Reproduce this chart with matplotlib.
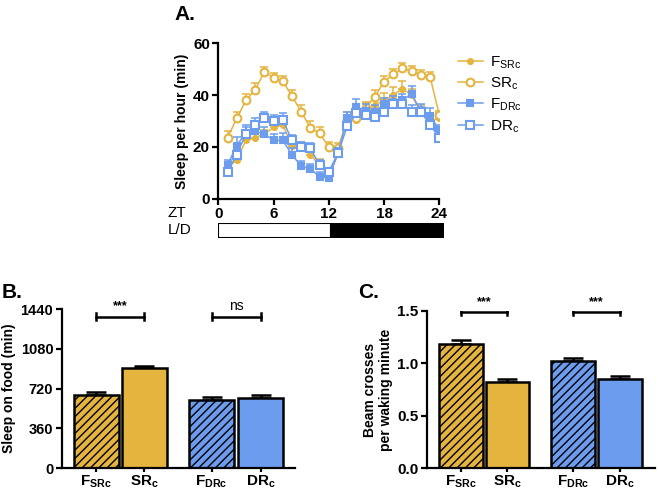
import numpy as np
import matplotlib
matplotlib.use("Agg")
import matplotlib.pyplot as plt
from matplotlib.patches import Rectangle

plt.rcParams['font.family'] = ['Liberation Sans', 'DejaVu Sans']
plt.rcParams['mathtext.fontset'] = 'custom'
plt.rcParams['mathtext.rm'] = 'Liberation Sans'
plt.rcParams['mathtext.bf'] = 'Liberation Sans:bold'
plt.rcParams['hatch.linewidth'] = 1.0

# ---- données panneau A : sommeil par heure (min)
zt = list(range(1, 25))
f_src = [12, 15, 22.5, 23.5, 25, 27.5, 28.5, 20.5, 20, 17, 13, 9,
         18, 31, 30.5, 34, 36, 38, 40, 42.5, 40, 33.5, 30, 31]
sr_c = [23.5, 31, 38, 42, 49, 46.7, 45.4, 39.6, 33.6, 27.4, 25.2, 20,
        19.5, 30.5, 31, 35, 39.4, 45.2, 48, 50.3, 49.3, 47.7, 47.1, 32.3]
f_drc = [13, 20.5, 25.5, 26, 25, 22.5, 22.5, 17, 12.5, 11.5, 8.5, 8,
         17.5, 31, 35.5, 34, 33.5, 36.5, 37, 38, 40.5, 33.5, 32, 26.5]
dr_c = [10.5, 17, 25, 28.5, 31, 30, 30.5, 22.5, 20, 19.5, 13, 10.5,
        17.5, 28, 33, 32.5, 31.5, 33.5, 36.5, 36.5, 33.5, 33.5, 28.5, 23.5]
sem_f_src = [1.5, 1.5, 1.5, 1.5, 1.5, 1.8, 2, 2, 2, 2, 2.5, 2,
             2, 2.5, 3, 3, 3, 3, 3, 3, 2.5, 2.5, 2.5, 2]
sem_sr_c = [2.5, 2.5, 2.5, 2.5, 2, 2, 2, 2.5, 2.5, 2.5, 2.5, 2,
            2, 2, 2.5, 2.5, 2.5, 2, 2, 2, 2, 2, 2, 1.5]
sem_f_drc = [2, 3.5, 3, 2.5, 2.5, 2.5, 3, 2.5, 2, 2, 2, 1.5,
             2, 2.5, 3, 2.5, 2.5, 2.5, 2.5, 2.5, 3, 3, 3, 2]
sem_dr_c = [2, 2.5, 2.5, 2.5, 2.5, 2.5, 2.5, 2, 2, 2, 2, 1.5,
            2, 2.5, 2.5, 2.5, 2.5, 2, 2, 2, 2.5, 2, 2, 2]

# ---- données panneaux B et C
groupes = [r'$\mathbf{F_{SRc}}$', r'$\mathbf{SR_c}$', r'$\mathbf{F_{DRc}}$', r'$\mathbf{DR_c}$']
sommeil_nourriture = [658, 906, 613, 637]
sem_sommeil = [30, 24, 33, 27]
passages = [1.185, 0.82, 1.027, 0.852]
sem_passages = [0.038, 0.032, 0.028, 0.025]

jaune = '#E5B43F'
bleu = '#6C9CEE'
couleurs_barres = [jaune, jaune, bleu, bleu]
hachures = ['////', '', '////', '']
pos = [0, 1.03, 2.48, 3.53]

fig = plt.figure(figsize=(6.58, 4.93), dpi=100)
W, H = 658.0, 493.0

def ax_px(x0, y0, x1, y1):
    return fig.add_axes([x0 / W, 1 - y1 / H, (x1 - x0) / W, (y1 - y0) / H])

def style_axes(ax):
    for s in ['top', 'right']:
        ax.spines[s].set_visible(False)
    for s in ['left', 'bottom']:
        ax.spines[s].set_linewidth(1.6)
    ax.tick_params(width=1.6, length=4, labelsize=11, pad=2)
    for lab in ax.get_yticklabels() + ax.get_xticklabels():
        lab.set_fontweight('bold')

# ---- Panneau A
axA = ax_px(218.3, 43.3, 439.3, 198.7)
series = [
    (f_src, sem_f_src, jaune, 'o', 3.6, jaune, r'F$_{\mathrm{SRc}}$'),
    (sr_c, sem_sr_c, jaune, 'o', 5.6, 'white', r'SR$_{\mathrm{c}}$'),
    (f_drc, sem_f_drc, bleu, 's', 4.2, bleu, r'F$_{\mathrm{DRc}}$'),
    (dr_c, sem_dr_c, bleu, 's', 5.6, 'white', r'DR$_{\mathrm{c}}$'),
]
handles = []
for y, e, c, m, ms, fc, lab in series:
    axA.errorbar(zt, y, yerr=[np.zeros(len(e)), e], fmt='none', ecolor=c,
                 elinewidth=1.1, capsize=2.8, capthick=1.1)
    h, = axA.plot(zt, y, color=c, marker=m, markersize=ms, markerfacecolor=fc,
                  markeredgecolor=c, markeredgewidth=1.5, linewidth=1.1, label=lab)
    handles.append(h)
axA.set_xlim(0, 24)
axA.set_ylim(0, 60)
axA.set_xticks([0, 6, 12, 18, 24])
axA.set_yticks([0, 20, 40, 60])
axA.set_ylabel('Sleep per hour (min)', fontsize=10, fontweight='bold', labelpad=3)
style_axes(axA)
fig.legend(handles=handles, loc='upper left', bbox_to_anchor=(452 / W, 1 - 48 / H),
           frameon=False, fontsize=11, handlelength=1.6, handletextpad=0.5,
           labelspacing=0.3, borderaxespad=0)
fig.text(168 / W, 1 - 213 / H, 'ZT', fontsize=11, va='center')
fig.text(168 / W, 1 - 230.5 / H, 'L/D', fontsize=11, va='center')
fig.text(174 / W, 1 - 15 / H, 'A.', fontsize=15, fontweight='bold', va='center')

axLD = ax_px(217.5, 223.3, 443.5, 237.7)
axLD.set_xlim(0, 24)
axLD.set_ylim(0, 1)
axLD.add_patch(Rectangle((0, 0), 12, 1, facecolor='white', edgecolor='black', linewidth=1.5))
axLD.add_patch(Rectangle((12, 0), 12, 1, facecolor='black', edgecolor='black', linewidth=1.5))
axLD.axis('off')

# ---- Panneaux B et C
def barres(ax, vals, sems, ylim, yticks, ylabel, sig, sig_y, tick_h):
    for i in range(4):
        ax.bar(pos[i], vals[i], width=0.97, color=couleurs_barres[i], edgecolor='black',
               linewidth=1.8, hatch=hachures[i], zorder=2)
    ax.errorbar(pos, vals, yerr=[np.zeros(4), sems], fmt='none', ecolor='black',
                elinewidth=1.8, capsize=7, capthick=1.8, zorder=1)
    ax.set_ylim(*ylim)
    ax.set_yticks(yticks)
    ax.set_xticks(pos)
    ax.set_xticklabels(groupes, fontsize=11.5)
    ax.set_ylabel(ylabel, fontsize=10, fontweight='bold', labelpad=3)
    style_axes(ax)
    ax.tick_params(axis='x', length=3, pad=1)
    for (a, b), txt in zip([(0, 1), (2, 3)], sig):
        ax.plot([pos[a], pos[b]], [sig_y, sig_y], color='black', linewidth=1.8)
        for p in (pos[a], pos[b]):
            ax.plot([p, p], [sig_y - tick_h, sig_y + tick_h], color='black', linewidth=1.8)
        if txt == '***':
            ax.text((pos[a] + pos[b]) / 2, sig_y + tick_h * 1.2, txt, ha='center',
                    va='bottom', fontsize=9, fontweight='bold')
        else:
            ax.text((pos[a] + pos[b]) / 2, sig_y + tick_h * 1.2, txt, ha='center',
                    va='bottom', fontsize=10)

axB = ax_px(61.7, 309.3, 295, 468)
barres(axB, sommeil_nourriture, sem_sommeil, (0, 1440), [0, 360, 720, 1080, 1440],
       'Sleep on food (min)', ['***', 'ns'], 1374, 30)
axB.set_yticklabels(['0', '360', '720', '1080', '1440'], fontweight='bold', fontsize=10.5)
axB.set_xlim(-0.74, 4.27)
fig.text(2 / W, 1 - 292 / H, 'B.', fontsize=15, fontweight='bold', va='center')

axC = ax_px(426.7, 311, 655, 468.3)
barres(axC, passages, sem_passages, (0, 1.5), [0.0, 0.5, 1.0, 1.5],
       'Beam crosses\nper waking minute', ['***', '***'], 1.494, 0.03)
axC.set_yticklabels(['0.0', '0.5', '1.0', '1.5'], fontweight='bold')
axC.set_xlim(-0.76, 4.3)
fig.text(358 / W, 1 - 292 / H, 'C.', fontsize=15, fontweight='bold', va='center')

fig.savefig('out.png', dpi=100)
